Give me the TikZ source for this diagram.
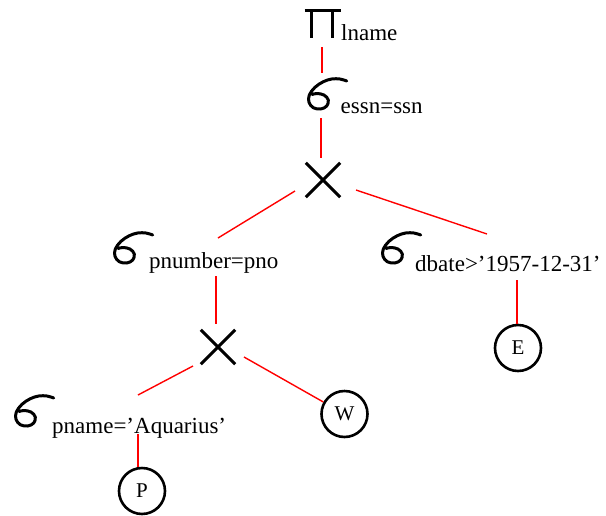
\documentclass[tikz,border=0pt]{standalone}
\usepackage{fontspec}
\setmainfont{Liberation Serif}
\begin{document}
\begin{tikzpicture}[x=1pt,y=-1pt]
\tikzset{
  blk/.style={line width=3pt},
  conn/.style={draw=red, line width=1.4pt},
  lbl/.style={anchor=base west, inner sep=0pt, font=\fontsize{23}{27}\selectfont},
  rel/.style={circle, draw, line width=2.6pt, minimum size=46pt, inner sep=0pt, font=\fontsize{21}{25}\selectfont},
  crossbox/.style={minimum size=34pt, inner sep=0pt},
  sigmasym/.pic={\draw[line width=3pt, line cap=round, line join=round] plot[smooth, tension=0.6] coordinates {(40.7,4) (34,2) (25.7,2) (17.3,4.7) (9,10.3) (3.3,18) (3,25.3) (7.3,30.7) (14.7,32) (20.7,29) (22.3,23) (18,18) (11,16.5) (6,17.5)};}
}
\useasboundingbox (0,0) rectangle (606,515);

% projection
\node[inner sep=0pt, minimum width=36pt, minimum height=30pt] (pi) at (322,24) {};
\draw[blk] (304.5,10) -- (341,10);
\draw[blk] (311.7,10) -- (311.7,38);
\draw[blk] (332.3,10) -- (332.3,38);
\node[lbl] (pilab) at (341,40) {lname};

% selections
\pic at (306,77) {sigmasym};
\node[lbl] (s1) at (340.5,113) {essn=ssn};
\pic at (112,231) {sigmasym};
\node[lbl] (s2) at (149,268) {pnumber=pno};
\pic at (380,231) {sigmasym};
\node[lbl] (s4) at (415,271) {dbate>'1957-12-31'};
\pic at (13,394) {sigmasym};
\node[lbl] (s3) at (52,433) {pname='Aquarius'};

% cross products
\node[crossbox] (x1) at (323,180) {};
\draw[blk] (x1.north west) -- (x1.south east) (x1.north east) -- (x1.south west);
\node[crossbox] (x2) at (218,347) {};
\draw[blk] (x2.north west) -- (x2.south east) (x2.north east) -- (x2.south west);

% relations
\node[rel] (P) at (142,491) {P};
\node[rel] (W) at (344.5,414) {W};
\node[rel] (E) at (518,348) {E};

% connector end points
\coordinate (a1) at (322,47);
\coordinate (a2) at (322,73);
\coordinate (b1) at (321,118);
\coordinate (b2) at (321,158);
\coordinate (c1) at (295,191);
\coordinate (c2) at (218,238);
\coordinate (d1) at (356,190);
\coordinate (d2) at (487,234);
\coordinate (e1) at (216,276);
\coordinate (e2) at (216,324);
\coordinate (f1) at (193,366);
\coordinate (f2) at (138,395);
\coordinate (g1) at (244,357);
\coordinate (h1) at (138,434);
\coordinate (i1) at (517,280);

\draw[conn] (a1) -- (a2);
\draw[conn] (b1) -- (b2);
\draw[conn] (c1) -- (c2);
\draw[conn] (d1) -- (d2);
\draw[conn] (e1) -- (e2);
\draw[conn] (f1) -- (f2);
\draw[conn] (g1) -- (W);
\draw[conn] (h1) -- (h1 |- P.north);
\draw[conn] (i1) -- (i1 |- E.north);
\end{tikzpicture}
\end{document}
